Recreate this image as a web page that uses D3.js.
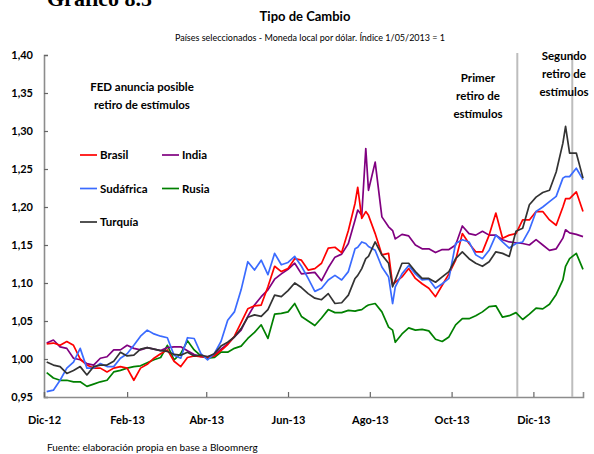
<!DOCTYPE html>
<html>
<head>
<meta charset="utf-8">
<script src="https://d3js.org/d3.v7.min.js"></script>
<style>
  body { margin: 0; background: #fff; }
  text { font-family: Lato, "Open Sans", sans-serif; }
</style>
</head>
<body>
<script>
'use strict';

// fechas (cada ~5 dias, con algunos puntos extra en los picos)
const dates = [
  "2012-12-03","2012-12-08","2012-12-13","2012-12-18","2012-12-23","2012-12-28",
  "2013-01-02","2013-01-07","2013-01-12","2013-01-17","2013-01-22","2013-01-27",
  "2013-02-01","2013-02-06","2013-02-11","2013-02-16","2013-02-21","2013-02-26",
  "2013-03-03","2013-03-08","2013-03-13","2013-03-18","2013-03-23","2013-03-28",
  "2013-04-02","2013-04-07","2013-04-12","2013-04-17","2013-04-22","2013-04-27",
  "2013-05-02","2013-05-07","2013-05-12","2013-05-17","2013-05-22","2013-05-27",
  "2013-06-01","2013-06-06","2013-06-11","2013-06-16","2013-06-21","2013-06-26",
  "2013-07-01","2013-07-06","2013-07-11","2013-07-16","2013-07-21","2013-07-23","2013-07-26","2013-07-29","2013-07-31",
  "2013-08-05","2013-08-10","2013-08-15","2013-08-18","2013-08-20","2013-08-25","2013-08-30",
  "2013-09-04","2013-09-09","2013-09-14","2013-09-19","2013-09-24","2013-09-29",
  "2013-10-04","2013-10-09","2013-10-14","2013-10-19","2013-10-24","2013-10-29",
  "2013-11-03","2013-11-08","2013-11-13","2013-11-18","2013-11-23","2013-11-28",
  "2013-12-03","2013-12-08","2013-12-13","2013-12-18","2013-12-23","2013-12-25","2013-12-28",
  "2014-01-02","2014-01-07"
];

const brasil = [
  1.020, 1.021, 1.018, 1.023, 1.018, 1.000,
  0.992, 0.988, 0.988, 0.983, 0.988, 0.990,
  0.988, 0.972, 0.988, 0.993, 1.001, 1.007,
  1.012, 0.997, 0.990, 1.002, 1.004, 1.003,
  1.002, 1.004, 1.011, 1.019, 1.030, 1.048,
  1.066, 1.070, 1.071, 1.095, 1.122, 1.115,
  1.119, 1.132, 1.130, 1.117, 1.119, 1.126,
  1.146, 1.147, 1.140, 1.169, 1.205, 1.226, 1.185, 1.194, 1.189,
  1.165, 1.137, 1.139, 1.098, 1.101, 1.108, 1.119,
  1.106, 1.099, 1.093, 1.082, 1.097, 1.112,
  1.130, 1.165, 1.152, 1.141, 1.141, 1.163,
  1.192, 1.159, 1.163, 1.165, 1.183, 1.183,
  1.194, 1.194, 1.183, 1.176, 1.200, 1.211, 1.211,
  1.220, 1.194
];

const india = [
  1.021, 1.025, 1.016, 1.014, 1.001, 0.999,
  0.994, 0.992, 1.001, 1.003, 1.012, 1.012,
  1.018, 1.014, 1.012, 1.015, 1.013, 1.011,
  1.015, 1.016, 1.016, 1.011, 1.006, 1.003,
  1.003, 1.005, 1.013, 1.020, 1.029, 1.038,
  1.056, 1.071, 1.082, 1.091, 1.105, 1.112,
  1.118, 1.126, 1.112, 1.113, 1.114, 1.103,
  1.120, 1.134, 1.138, 1.152, 1.183, 1.196, 1.189, 1.277, 1.222,
  1.259, 1.187, 1.174, 1.169, 1.158, 1.164, 1.162,
  1.150, 1.145, 1.145, 1.140, 1.144, 1.144,
  1.150, 1.175, 1.165, 1.163, 1.168, 1.163,
  1.163, 1.157, 1.154, 1.153, 1.152, 1.150,
  1.157, 1.150, 1.143, 1.145, 1.159, 1.170, 1.166,
  1.164, 1.161
];

const sudafrica = [
  0.957, 0.959, 0.972, 0.988, 0.996, 1.014,
  0.988, 0.988, 0.994, 0.990, 0.990, 1.001,
  1.007, 1.018, 1.030, 1.038, 1.033, 1.030,
  1.028, 1.005, 1.001, 1.028, 1.027, 1.007,
  0.999, 1.007, 1.023, 1.051, 1.062, 1.091,
  1.128, 1.117, 1.130, 1.111, 1.139, 1.124,
  1.127, 1.135, 1.122, 1.106, 1.089, 1.093,
  1.104, 1.110, 1.104, 1.115, 1.145, 1.147, 1.154, 1.152, 1.148,
  1.143, 1.121, 1.108, 1.073, 1.095, 1.112, 1.123,
  1.112, 1.104, 1.105, 1.093, 1.099, 1.106,
  1.152, 1.157, 1.154, 1.137, 1.132, 1.143,
  1.163, 1.154, 1.146, 1.152, 1.154, 1.170,
  1.194, 1.200, 1.207, 1.214, 1.238, 1.240, 1.240,
  1.251, 1.236
];

const rusia = [
  0.982, 0.975, 0.972, 0.972, 0.970, 0.970,
  0.964, 0.967, 0.970, 0.972, 0.983, 0.985,
  0.988, 0.990, 0.991, 0.995, 0.999, 1.002,
  1.018, 0.999, 1.007, 1.024, 1.012, 1.004,
  1.001, 1.002, 1.009, 1.009, 1.014, 1.017,
  1.027, 1.035, 1.045, 1.027, 1.059, 1.060,
  1.062, 1.073, 1.056, 1.050, 1.044, 1.054,
  1.065, 1.061, 1.061, 1.064, 1.063, 1.064, 1.065, 1.069, 1.071,
  1.073, 1.062, 1.042, 1.038, 1.022, 1.033, 1.041,
  1.038, 1.039, 1.037, 1.026, 1.023, 1.029,
  1.045, 1.053, 1.053, 1.057, 1.062, 1.069,
  1.070, 1.055, 1.057, 1.061, 1.052, 1.059,
  1.067, 1.066, 1.072, 1.085, 1.104, 1.122, 1.132,
  1.139, 1.118
];

const turquia = [
  0.996, 0.992, 0.990, 0.981, 0.985, 0.990,
  0.979, 0.990, 0.992, 0.992, 0.997, 1.009,
  1.004, 1.005, 1.013, 1.015, 1.013, 1.011,
  1.010, 1.006, 1.005, 1.009, 1.004, 1.005,
  1.003, 1.007, 1.017, 1.022, 1.029, 1.040,
  1.055, 1.058, 1.056, 1.065, 1.084, 1.082,
  1.090, 1.100, 1.094, 1.086, 1.080, 1.078,
  1.086, 1.073, 1.074, 1.084, 1.106, 1.110, 1.119, 1.132, 1.135,
  1.154, 1.137, 1.126, 1.095, 1.104, 1.126, 1.126,
  1.115, 1.106, 1.106, 1.101, 1.108, 1.115,
  1.132, 1.141, 1.132, 1.126, 1.122, 1.128,
  1.141, 1.139, 1.135, 1.168, 1.172, 1.203,
  1.213, 1.219, 1.222, 1.246, 1.284, 1.306, 1.271,
  1.271, 1.238
];

// series en orden de dibujo
const seriesNames = ["Rusia", "India", "Brasil", "Sudáfrica", "Turquía"];
const seriesValues = [rusia, india, brasil, sudafrica, turquia];
const seriesColors = ["#008000", "#800080", "#ff0000", "#3a6bff", "#333333"];

// leyenda (dos columnas)
const legendNames = ["Brasil", "India", "Sudáfrica", "Rusia", "Turquía"];
const legendColors = ["#ff0000", "#800080", "#3a6bff", "#008000", "#333333"];

const yTicks = [0.95, 1.00, 1.05, 1.10, 1.15, 1.20, 1.25, 1.30, 1.35, 1.40];
const xTicks = ["2012-12-01", "2013-02-01", "2013-04-01", "2013-06-01", "2013-08-01", "2013-10-01", "2013-12-01"];
const monthNames = ["Ene", "Feb", "Mar", "Abr", "May", "Jun", "Jul", "Ago", "Sep", "Oct", "Nov", "Dic"];

// fechas de los retiros de estimulos (lineas verticales)
const eventDates = ["2013-11-19", "2013-12-30"];

(function() {

  let svgContainer = "";
  const parseDate = d3.timeParse("%Y-%m-%d");

  window.onload = function() {
    svgContainer = d3.select('body')
      .append('svg')
      .attr('width', 594)
      .attr('height', 454);

    let map = drawAxes();
    drawEvents(map);
    plotData(map);
    makeLegend();
    makeLabels();
  }

  // ejes y escalas
  function drawAxes() {
    let xScale = d3.scaleTime()
      .domain([parseDate("2012-12-01"), parseDate("2014-01-07")])
      .range([44, 583]);

    let yScale = d3.scaleLinear()
      .domain([0.95, 1.40])
      .range([397, 55]);

    // eje y con marcas hacia adentro
    let yAxis = d3.axisRight(yScale)
      .tickValues(yTicks)
      .tickSize(4)
      .tickFormat(d => d3.format(".2f")(d).replace(".", ","));
    let gy = svgContainer.append('g')
      .attr('transform', 'translate(44, 0)')
      .call(yAxis);
    gy.select('.domain').attr('stroke', '#8c8c8c').attr('stroke-width', 1.6);
    gy.selectAll('.tick line').attr('stroke', '#666').attr('stroke-width', 1.2);
    gy.selectAll('.tick text')
      .attr('x', -11)
      .attr('text-anchor', 'end')
      .style('font-size', '11px')
      .style('font-weight', 'bold')
      .attr('fill', '#000');

    // eje x con marcas hacia arriba
    let xAxis = d3.axisTop(xScale)
      .tickValues(xTicks.map(parseDate))
      .tickSize(5)
      .tickFormat(d => monthNames[d.getMonth()] + "-" + d3.timeFormat("%y")(d));
    let gx = svgContainer.append('g')
      .attr('transform', 'translate(0, 397)')
      .call(xAxis);
    gx.select('.domain').attr('stroke', '#8c8c8c').attr('stroke-width', 1.6);
    gx.selectAll('.tick line').attr('stroke', '#666').attr('stroke-width', 1.2);
    gx.selectAll('.tick text')
      .attr('y', 27)
      .style('font-size', '11px')
      .style('font-weight', 'bold')
      .attr('fill', '#000');

    return { x: xScale, y: yScale };
  }

  // lineas grises verticales
  function drawEvents(map) {
    svgContainer.selectAll('.event')
      .data(eventDates)
      .enter()
      .append('line')
      .attr('class', 'event')
      .attr('x1', d => map.x(parseDate(d)))
      .attr('x2', d => map.x(parseDate(d)))
      .attr('y1', 53)
      .attr('y2', 397)
      .attr('stroke', '#bdbdbd')
      .attr('stroke-width', 2);
  }

  // dibuja las cinco series
  function plotData(map) {
    const parsed = dates.map(parseDate);
    const line = d3.line()
      .x((d, i) => map.x(parsed[i]))
      .y(d => map.y(d));

    svgContainer.selectAll('.serie')
      .data(seriesValues)
      .enter()
      .append('path')
      .attr('class', 'serie')
      .attr('d', d => line(d))
      .attr('fill', 'none')
      .attr('stroke', (d, i) => seriesColors[i])
      .attr('stroke-width', 1.7)
      .attr('stroke-linejoin', 'round');
  }

  function makeLegend() {
    let items = svgContainer.selectAll('.legend')
      .data(legendNames)
      .enter()
      .append('g')
      .attr('class', 'legend')
      .attr('transform', (d, i) => 'translate(' + (80 + (i % 2) * 82) + ',' + (155 + Math.floor(i / 2) * 33.5) + ')');

    items.append('line')
      .attr('x1', 0)
      .attr('x2', 17)
      .attr('stroke', (d, i) => legendColors[i])
      .attr('stroke-width', 1.7);

    items.append('text')
      .attr('x', 20)
      .attr('y', 4)
      .style('font-size', '11.5px')
      .style('font-weight', 'bold')
      .text(d => d);
  }

  // titulos, notas y fuente
  function makeLabels() {
    svgContainer.append('text')
      .attr('x', 47)
      .attr('y', 6)
      .style('font-family', '"Liberation Serif", serif')
      .style('font-size', '22px')
      .style('font-weight', 'bold')
      .text('Gráfico 8.5');

    svgContainer.append('text')
      .attr('x', 305)
      .attr('y', 21)
      .attr('text-anchor', 'middle')
      .style('font-size', '13px')
      .style('font-weight', 'bold')
      .text('Tipo de Cambio');

    svgContainer.append('text')
      .attr('x', 310)
      .attr('y', 41)
      .attr('text-anchor', 'middle')
      .style('font-size', '9px')
      .text('Países seleccionados - Moneda local por dólar. Índice 1/05/2013 = 1');

    const notes = [
      { x: 142, y: 91, lines: ['FED anuncia posible', 'retiro de estímulos'] },
      { x: 478, y: 82, lines: ['Primer', 'retiro de', 'estímulos'] },
      { x: 564, y: 60, lines: ['Segundo', 'retiro de', 'estímulos'] }
    ];
    notes.forEach(n => {
      svgContainer.append('text')
        .attr('text-anchor', 'middle')
        .style('font-size', '11.5px')
        .style('font-weight', 'bold')
        .selectAll('tspan')
        .data(n.lines)
        .enter()
        .append('tspan')
        .attr('x', n.x)
        .attr('y', (d, i) => n.y + i * 18)
        .text(d => d);
    });

    svgContainer.append('text')
      .attr('x', 47)
      .attr('y', 451)
      .style('font-size', '10px')
      .text('Fuente: elaboración propia en base a Bloomnerg');
  }
})();
</script>
</body>
</html>
